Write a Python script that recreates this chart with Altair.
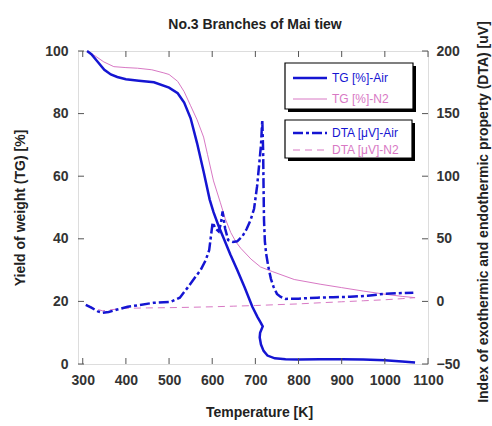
import altair as alt
import pandas as pd

# ---------------- data ----------------
T_TG_AIR = [310, 320, 335, 350, 365, 380, 400, 430, 465, 500, 520, 535, 550, 565, 580, 594, 603,
            615, 627, 642, 658, 675, 693, 705, 712, 717, 711, 710, 713, 719, 728, 745, 770, 800,
            850, 900, 950, 1000, 1040, 1070]
TG_AIR = [100, 99, 96.5, 94, 92.5, 91.7, 91, 90.5, 90, 88.3, 86.5, 83.5, 78.5, 70.5, 61.5, 52.6, 48.5,
          44, 40, 35, 30, 24.5, 18.3, 15, 13.3, 12, 10, 8.5, 6.2, 4.2, 2.7, 1.8, 1.5, 1.4,
          1.5, 1.5, 1.4, 1.2, 0.8, 0.5]

T_TG_N2 = [310, 330, 349, 372, 400, 427, 460, 488, 500, 520, 535, 550, 565, 580, 589, 603, 619,
           630, 643, 655, 666, 690, 712, 740, 790, 850, 900, 950, 1000, 1040, 1070]
TG_N2 = [100, 98.3, 96.5, 95, 94.7, 94.5, 94, 93, 92.5, 90.3, 87, 82.5, 78, 72.5, 67, 58.5, 51.5,
         46.5, 42, 39, 37, 33.5, 31, 29.5, 27, 25.5, 24.4, 23.3, 22.3, 21.6, 21.2]

T_DTA_AIR = [307, 320, 335, 346, 360, 380, 404, 430, 464, 504, 525, 543, 560, 573, 585, 593, 601,
             608, 615, 620, 624, 630, 637, 648, 658, 670, 680, 689, 697, 704, 709, 713, 716, 718,
             719, 720, 722, 725, 730, 736, 742, 750, 758, 770, 800, 843, 880, 920, 960, 997,
             1030, 1066]
DTA_AIR = [-2.7, -5, -8, -9.1, -8.5, -6.5, -4.3, -3, -1.1, -0.3, 3, 11, 19, 25, 33, 41, 63,
           58, 55.8, 62, 71.8, 58, 49, 47.5, 48, 52, 58, 65, 74, 92, 110, 125, 145, 120,
           90, 65, 48, 38, 27.7, 18, 11.7, 6, 3.7, 2, 2.2, 3, 3.3, 3.7, 4.5, 6,
           6.5, 7]

T_DTA_N2 = [310, 330, 346, 370, 400, 450, 500, 550, 600, 650, 700, 750, 800, 850, 900, 950, 1000,
            1040, 1070]
DTA_N2 = [-3, -6, -7.5, -6.5, -5.5, -5.2, -5, -4.7, -4.3, -3.8, -3.3, -2.6, -2, -1.1, -0.3, 0.5, 1.3,
          2.2, 3]

X_TICKS = [300, 400, 500, 600, 700, 800, 900, 1000, 1100]
YL_TICKS = [0, 20, 40, 60, 80, 100]
YR_TICKS = [-50, 0, 50, 100, 150, 200]
LEGEND_LABELS = ["TG [%]-Air", "TG [%]-N2", "DTA [\u03bcV]-Air", "DTA [\u03bcV]-N2"]

TITLE = "No.3 Branches of Mai tiew"
X_TITLE = "Temperature [K]"
YL_TITLE = "Yield of weight (TG) [%]"
YR_TITLE = "Index of exothermic and endothermic property (DTA) [uV]"

# ---------------- style ----------------
W, H = 350, 313
BLUE = "#1515d2"
PINK = "#d878c4"
FONT = "Liberation Sans"
AX = "#333333"
FRAME = "#555555"


def frame(t, v):
    return pd.DataFrame({"T": t, "v": v, "i": list(range(len(t)))})


xscale = alt.Scale(domain=[289, 1100], nice=False, zero=False)
yl_scale = alt.Scale(domain=[0, 100], nice=False, zero=False)
yr_scale = alt.Scale(domain=[-50, 200], nice=False, zero=False)

common = dict(ticks=False, tickSize=0, domain=False, grid=False, labelFont=FONT, labelFontSize=14,
              labelFontWeight="bold", labelColor=AX, titleFont=FONT, titleFontSize=14,
              titleFontWeight="bold", titleColor="#222222", labelOverlap=False, format="d",
              labelFlush=False)

x_axis = alt.Axis(values=X_TICKS, title=X_TITLE, orient="bottom", labelPadding=9,
                  titleX=181, titleY=48, titleBaseline="middle", titleAlign="center", **common)
yl_axis = alt.Axis(values=YL_TICKS, title=YL_TITLE, orient="left", labelPadding=10,
                   titleX=-58, titleY=H / 2, titleAngle=270, titleBaseline="middle",
                   titleAlign="center", **common)
yr_axis = alt.Axis(values=YR_TICKS, title=YR_TITLE, orient="right", labelPadding=8,
                   titleX=55, titleY=H / 2 + 4, titleAngle=270, titleBaseline="middle",
                   titleAlign="center", **common)


def series(t, v, color, width, yscale, yaxis, dash=None):
    kw = dict(color=color, strokeWidth=width)
    if dash:
        kw["strokeDash"] = dash
    return alt.Chart(frame(t, v)).mark_line(**kw).encode(
        x=alt.X("T:Q", scale=xscale, axis=x_axis),
        y=alt.Y("v:Q", scale=yscale, axis=yaxis),
        order=alt.Order("i:Q"),
    )


tg_air = series(T_TG_AIR, TG_AIR, BLUE, 2.5, yl_scale, yl_axis)
tg_n2 = series(T_TG_N2, TG_N2, PINK, 1, yl_scale, yl_axis)
dta_air = series(T_DTA_AIR, DTA_AIR, BLUE, 2.5, yr_scale, yr_axis, [10, 3, 3, 3])
dta_n2 = series(T_DTA_N2, DTA_N2, PINK, 1, yr_scale, yr_axis, [7, 5])

yl_ticks = alt.Chart(pd.DataFrame({"t": YL_TICKS})).mark_rule(color=FRAME).encode(
    y=alt.Y("t:Q", scale=yl_scale, axis=yl_axis), x=alt.value(0), x2=alt.value(6))
yr_ticks = alt.Chart(pd.DataFrame({"t": YR_TICKS})).mark_rule(color=FRAME).encode(
    y=alt.Y("t:Q", scale=yr_scale, axis=yr_axis), x=alt.value(W - 6), x2=alt.value(W))
xb_ticks = alt.Chart(pd.DataFrame({"t": X_TICKS})).mark_rule(color=FRAME).encode(
    x=alt.X("t:Q", scale=xscale, axis=x_axis), y=alt.value(H - 6), y2=alt.value(H))
xt_ticks = alt.Chart(pd.DataFrame({"t": X_TICKS})).mark_rule(color=FRAME).encode(
    x=alt.X("t:Q", scale=xscale, axis=x_axis), y=alt.value(0), y2=alt.value(6))

left = alt.layer(tg_n2, tg_air, yl_ticks)
right = alt.layer(dta_n2, dta_air, yr_ticks)

# ---------------- title and legend boxes ----------------
ONE = alt.Data(values=[{"a": 1}])

title = alt.Chart(ONE).mark_text(align="center", baseline="middle", font=FONT, fontSize=14,
                                 fontWeight="bold", color="#222222").encode(
    x=alt.value(W / 2 + 2), y=alt.value(-26), text=alt.value(TITLE))


def box(x0, x1, y0, y1):
    shadow = alt.Chart(ONE).mark_rect(color="black").encode(
        x=alt.value(x0 + 3), x2=alt.value(x1 + 3), y=alt.value(y0 + 3), y2=alt.value(y1 + 3))
    face = alt.Chart(ONE).mark_rect(fill="white", stroke="black", strokeWidth=1.2).encode(
        x=alt.value(x0), x2=alt.value(x1), y=alt.value(y0), y2=alt.value(y1))
    return [shadow, face]


def entry(label, y, color, width, dash=None):
    kw = dict(color=color, strokeWidth=width)
    if dash:
        kw["strokeDash"] = dash
    sample = alt.Chart(ONE).mark_rule(**kw).encode(
        x=alt.value(215), x2=alt.value(249), y=alt.value(y))
    text = alt.Chart(ONE).mark_text(align="left", baseline="middle", color=color, font=FONT,
                                    fontSize=12).encode(
        x=alt.value(254), y=alt.value(y), text=alt.value(label))
    return [sample, text]


legend = (box(207, 335, 12, 58) + box(207, 334, 69, 107)
          + entry(LEGEND_LABELS[0], 27, BLUE, 2.5)
          + entry(LEGEND_LABELS[1], 48, PINK, 1)
          + entry(LEGEND_LABELS[2], 82, BLUE, 2.5, [10, 3, 3, 3])
          + entry(LEGEND_LABELS[3], 99, PINK, 1, [7, 5]))

chart = alt.layer(left, right, xb_ticks, xt_ticks, title, *legend).resolve_scale(
    y="independent"
).properties(
    width=W,
    height=H,
    autosize=alt.AutoSizeParams(type="none"),
    padding={"left": 78, "top": 51, "right": 64, "bottom": 62},
).configure_view(stroke=FRAME, strokeWidth=1.2).configure(background="white")

chart.save("out.html", embed_options={"renderer": "svg", "actions": False})
